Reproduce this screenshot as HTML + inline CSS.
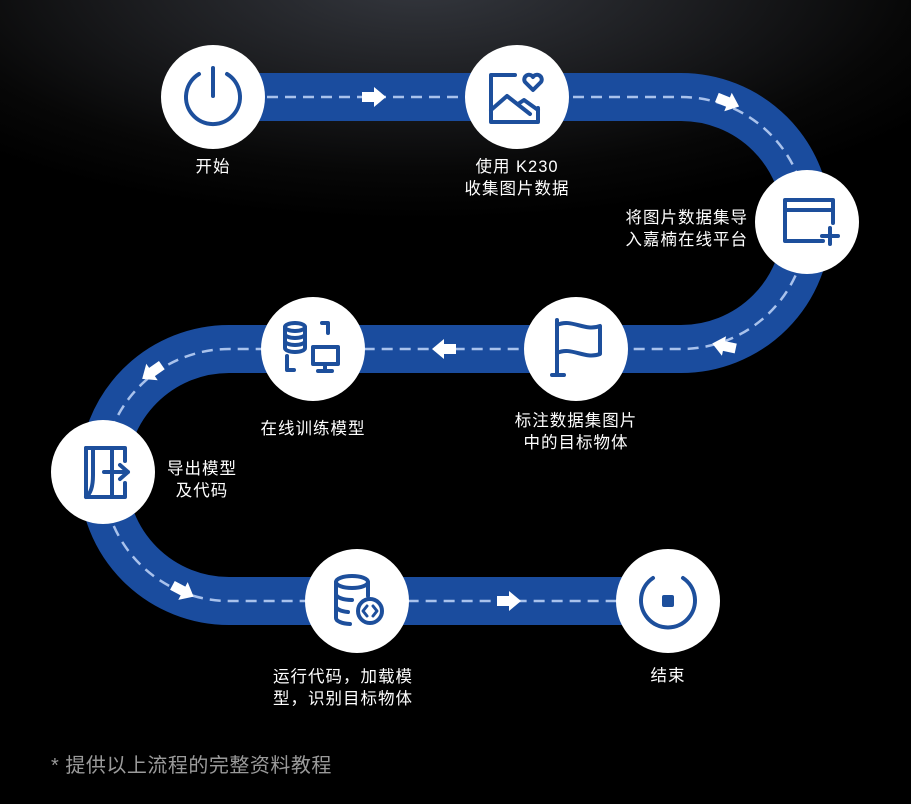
<!DOCTYPE html>
<html><head><meta charset="utf-8"><style>
html,body{margin:0;padding:0}
body{width:911px;height:804px;overflow:hidden;position:relative;
background:radial-gradient(ellipse 620px 240px at 420px -20px,#35383f 0%,#1c1d20 45%,#070707 80%,#000 100%) ,#000;
font-family:"Liberation Sans","Noto Sans CJK SC",sans-serif;color:#fff}
.t{position:absolute;font-size:16.5px;line-height:22px;letter-spacing:1px;white-space:nowrap}
.c{text-align:center;transform:translateX(-50%)}
</style></head><body>
<svg width="911" height="804" style="position:absolute;left:0;top:0">
<defs>
<marker id="a" viewBox="0 0 10 10" refX="5" refY="5" markerWidth="1" markerHeight="1"></marker>
</defs>
<path d="M213 97 H681 A126 126 0 0 1 681 349 H229 A126 126 0 0 0 229 601 H668" fill="none" stroke="#1a4c9e" stroke-width="48"/>
<path d="M213 97 H681 A126 126 0 0 1 681 349 H229 A126 126 0 0 0 229 601 H668" fill="none" stroke="#a9c2ec" stroke-width="2.5" stroke-dasharray="11 7"/>
<g fill="#fff">
<polygon points="362,92 374,92 374,87 386,97 374,107 374,102 362,102"/>
<g transform="translate(728,102) rotate(22)"><polygon points="-12,-5 0,-5 0,-10 12,0 0,10 0,5 -12,5"/></g>
<g transform="translate(724,346) rotate(192)"><polygon points="-12,-5 0,-5 0,-10 12,0 0,10 0,5 -12,5"/></g>
<polygon points="456,344 444,344 444,339 432,349 444,359 444,354 456,354"/>
<g transform="translate(152,372) rotate(145)"><polygon points="-12,-5 0,-5 0,-10 12,0 0,10 0,5 -12,5"/></g>
<g transform="translate(183,591) rotate(28)"><polygon points="-12,-5 0,-5 0,-10 12,0 0,10 0,5 -12,5"/></g>
<polygon points="497,596 509,596 509,591 521,601 509,611 509,606 497,606"/>
</g>
<g fill="#fff">
<circle cx="213" cy="97" r="52"/><circle cx="517" cy="97" r="52"/><circle cx="807" cy="222" r="52"/>
<circle cx="576" cy="349" r="52"/><circle cx="313" cy="349" r="52"/><circle cx="103" cy="472" r="52"/>
<circle cx="357" cy="601" r="52"/><circle cx="668" cy="601" r="52"/>
</g>
<g fill="none" stroke="#1d4f9c" stroke-width="4" stroke-linecap="round" stroke-linejoin="round">
<!-- power -->
<path d="M199 74 A27 27 0 1 0 227 74"/><line x1="213" y1="68" x2="213" y2="96"/>
<!-- image heart -->
<path d="M538 108 V122 H491 V75 H515"/><path d="M491 110 L507 96 L530 114 M518 104 L524 100 L538 110"/>
<path d="M533 90 L525 82 A4 4 0 0 1 533 77 A4 4 0 0 1 541 82 Z"/>
<!-- window plus -->
<path d="M823 241 H785 V200 H833 V223"/><line x1="785" y1="210" x2="833" y2="210"/>
<line x1="830" y1="228" x2="830" y2="244"/><line x1="822" y1="236" x2="838" y2="236"/>
<!-- flag -->
<path d="M557 320 V375 M552 375 H564 M557 325 C572 318 584 332 600 326 V354 C584 360 572 346 557 353"/>
<!-- db + monitor -->
<ellipse cx="295" cy="327" rx="10" ry="4"/><path d="M285 327 V348 A10 4 0 0 0 305 348 V327 M285 334 A10 4 0 0 0 305 334 M285 341 A10 4 0 0 0 305 341"/>
<path d="M322 323 H328 V333 M287 356 V370 H294"/>
<rect x="313" y="347" width="25" height="17"/><path d="M325 364 V371 M318 371 H332"/>
<!-- export -->
<path d="M86 448 H112 V497 H86 Z"/><path d="M86 448 H93 V475 Q93 492 86 497"/>
<path d="M112 448 H125 V461 M125 483 V497 H112"/><path d="M104 472 H128 M120 465 L128 472 L120 479"/>
<!-- db code -->
<ellipse cx="352" cy="582" rx="16" ry="6"/><path d="M336 582 V618 A16 6 0 0 0 350 624 M336 594 A16 6 0 0 0 352 600 M336 606 A16 6 0 0 0 348 612 M368 582 V596"/>
<circle cx="370" cy="611" r="12"/><path d="M367 606 L363 611 L367 616 M373 606 L377 611 L373 616" stroke-width="3"/>
<!-- end -->
<path d="M653 578 A27 27 0 1 0 683 578"/>
</g>
<rect x="662" y="595" width="12" height="12" rx="2" fill="#1d4f9c"/>
</svg>
<div class="t c" style="left:213px;top:156px">开始</div>
<div class="t c" style="left:517px;top:156px">使用 K230<br>收集图片数据</div>
<div class="t" style="right:163px;top:207px;text-align:right">将图片数据集导<br>入嘉楠在线平台</div>
<div class="t c" style="left:313px;top:418px">在线训练模型</div>
<div class="t c" style="left:576px;top:410px">标注数据集图片<br>中的目标物体</div>
<div class="t c" style="left:202px;top:458px">导出模型<br>及代码</div>
<div class="t c" style="left:343px;top:666px">运行代码，加载模<br>型，识别目标物体</div>
<div class="t c" style="left:668px;top:665px">结束</div>
<div class="t" style="left:51px;top:753px;font-size:20px;line-height:26px;color:#9a9a9a;letter-spacing:0.5px">* 提供以上流程的完整资料教程</div>
</body></html>
